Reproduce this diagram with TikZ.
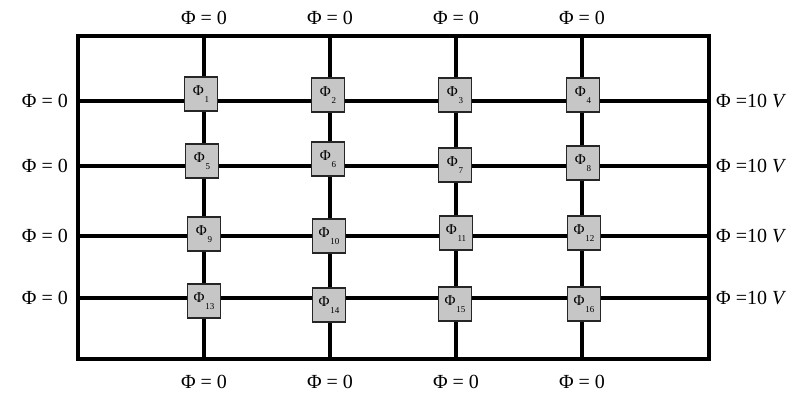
\documentclass[tikz,border=0pt]{standalone}
\usepackage{fontspec}
\setmainfont{Liberation Serif}
\newcommand{\celltext}[1]{\raisebox{2.5pt}{Φ}\kern0.8pt\raisebox{-5pt}{\fontsize{9}{10}\selectfont #1}}
\begin{document}
\begin{tikzpicture}[x=1pt,y=-1pt,
  wire/.style={line width=3.1pt},
  cell/.style={draw=black!85, line width=1.4pt, fill=gray!45, minimum width=33pt, minimum height=34pt, inner sep=0pt, font=\fontsize{15}{16}\selectfont},
  lbl/.style={font=\fontsize{20}{22}\selectfont, inner sep=0pt}]
\useasboundingbox (0,0) rectangle (804,397);
% frame corners
\coordinate (TL) at (78,36);
\coordinate (BR) at (709,359);
\draw[wire] (TL) rectangle (BR);
% grid line ends
\foreach \i/\x in {1/204,2/330,3/456,4/582}{
  \coordinate (T\i) at (\x,36);
  \coordinate (B\i) at (\x,359);
  \draw[wire] (T\i) -- (B\i);
  \node[lbl] (tl\i) at (\x,18) {Φ = 0};
  \node[lbl] (bl\i) at (\x,382) {Φ = 0};
}
\foreach \j/\y in {1/101,2/166,3/236,4/298}{
  \coordinate (L\j) at (78,\y);
  \coordinate (R\j) at (709,\y);
  \draw[wire] (L\j) -- (R\j);
  \node[lbl,anchor=east] (ll\j) at (68,\y) {Φ = 0};
  \node[lbl,anchor=west] (rl\j) at (716,\y) {Φ =10 \textit{V}};
}
% cells
\foreach \n/\x/\y in {1/201/94,2/328/95,3/455/95,4/583/95,
                      5/202/161,6/328/159,7/455/165,8/583/163,
                      9/204/234,10/329/236,11/456/233,12/584/233,
                      13/204/301,14/329/305,15/455/304,16/584/304}{
  \node[cell] (c\n) at (\x,\y) {\celltext{\n}};
}
\end{tikzpicture}
\end{document}
